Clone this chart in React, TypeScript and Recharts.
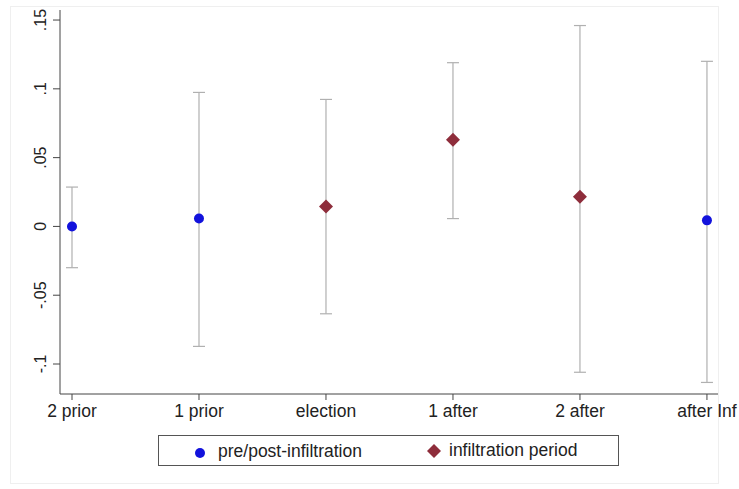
import {
  ComposedChart,
  ErrorBar,
  Scatter,
  XAxis,
  YAxis,
} from "recharts";

const categories = ["2 prior", "1 prior", "election", "1 after", "2 after", "after Inf"];
const estimates = [0, 0.0058, 0.0145, 0.063, 0.0216, 0.0044];
const lowerBounds = [-0.03, -0.0872, -0.0635, 0.0057, -0.106, -0.1134];
const upperBounds = [0.0286, 0.0974, 0.0923, 0.119, 0.146, 0.12];
// true = infiltration period (diamond), false = pre/post (circle)
const infiltrationFlags = [false, false, true, true, true, false];
const yTicks = [-0.1, -0.05, 0, 0.05, 0.1, 0.15];
const yTickLabels = ["-.1", "-.05", "0", ".05", ".1", ".15"];

const BLUE = "#1212dc";
const MAROON = "#8e2d3b";
const FONT = '"Liberation Sans", Arial, Helvetica, sans-serif';

const rows = categories.map((name, i) => ({
  x: i + 1,
  y: estimates[i],
  err: [estimates[i] - lowerBounds[i], upperBounds[i] - estimates[i]],
  name,
}));
const prePost = rows.filter((_, i) => !infiltrationFlags[i]);
const infiltration = rows.filter((_, i) => infiltrationFlags[i]);

function Dot(props: any) {
  const { cx, cy } = props;
  return <circle cx={cx} cy={cy} r={5} fill={BLUE} />;
}

function Diamond(props: any) {
  const { cx, cy } = props;
  const r = 7;
  return (
    <polygon
      points={`${cx},${cy - r} ${cx + r},${cy} ${cx},${cy + r} ${cx - r},${cy}`}
      fill={MAROON}
    />
  );
}

function YTick(props: any) {
  const { y, payload } = props;
  const idx = yTicks.indexOf(payload.value);
  return (
    <text
      x={46}
      y={y}
      transform={`rotate(-90, 46, ${y})`}
      textAnchor="middle"
      fontSize={16}
      fontFamily={FONT}
      fill="#222"
    >
      {idx >= 0 ? yTickLabels[idx] : ""}
    </text>
  );
}

function XTick(props: any) {
  const { x, payload } = props;
  return (
    <text
      x={x}
      y={417}
      textAnchor="middle"
      fontSize={17.5}
      fontFamily={FONT}
      fill="#222"
    >
      {categories[payload.value - 1]}
    </text>
  );
}

export default function App() {
  return (
    <div
      style={{
        position: "absolute",
        left: 0,
        top: 0,
        width: 739,
        height: 489,
        background: "#fff",
        overflow: "hidden",
      }}
    >
      {/* faint outer graph region outline */}
      <div
        style={{
          position: "absolute",
          left: 10,
          top: 6,
          width: 707,
          height: 476,
          border: "1px solid #efefef",
        }}
      />
      <div style={{ position: "absolute", left: 0, top: 0 }}>
        <ComposedChart
          width={739}
          height={489}
          margin={{ top: 10, right: 21, bottom: 55, left: 0 }}
        >
          <XAxis
            type="number"
            dataKey="x"
            domain={[0.9055, 6.087]}
            ticks={[1, 2, 3, 4, 5, 6]}
            allowDataOverflow
            height={40}
            stroke="#444"
            tickSize={6}
            tick={<XTick />}
          />
          <YAxis
            type="number"
            dataKey="y"
            domain={[-0.1218, 0.1573]}
            ticks={yTicks}
            allowDataOverflow
            width={60}
            stroke="#444"
            tickSize={7}
            tick={<YTick />}
          />
          <Scatter
            name="pre/post-infiltration"
            data={prePost}
            shape={<Dot />}
            isAnimationActive={false}
          >
            <ErrorBar
              dataKey="err"
              direction="y"
              width={6}
              stroke="#b0b0b0"
              strokeWidth={1.2}
              isAnimationActive={false}
            />
          </Scatter>
          <Scatter
            name="infiltration period"
            data={infiltration}
            shape={<Diamond />}
            isAnimationActive={false}
          >
            <ErrorBar
              dataKey="err"
              direction="y"
              width={6}
              stroke="#b0b0b0"
              strokeWidth={1.2}
              isAnimationActive={false}
            />
          </Scatter>
        </ComposedChart>
      </div>
      {/* legend box */}
      <div
        style={{
          position: "absolute",
          left: 158,
          top: 435,
          width: 459,
          height: 29,
          border: "1px solid #555",
          fontFamily: FONT,
          fontSize: 17.5,
          color: "#222",
        }}
      >
        <svg
          width={20}
          height={20}
          style={{ position: "absolute", left: 31, top: 7 }}
        >
          <circle cx={10} cy={10} r={5} fill={BLUE} />
        </svg>
        <span style={{ position: "absolute", left: 59, top: 5, whiteSpace: "nowrap" }}>
          pre/post-infiltration
        </span>
        <svg
          width={20}
          height={20}
          style={{ position: "absolute", left: 265, top: 5 }}
        >
          <polygon points="10,3 17,10 10,17 3,10" fill={MAROON} />
        </svg>
        <span style={{ position: "absolute", left: 290, top: 4, whiteSpace: "nowrap" }}>
          infiltration period
        </span>
      </div>
    </div>
  );
}
